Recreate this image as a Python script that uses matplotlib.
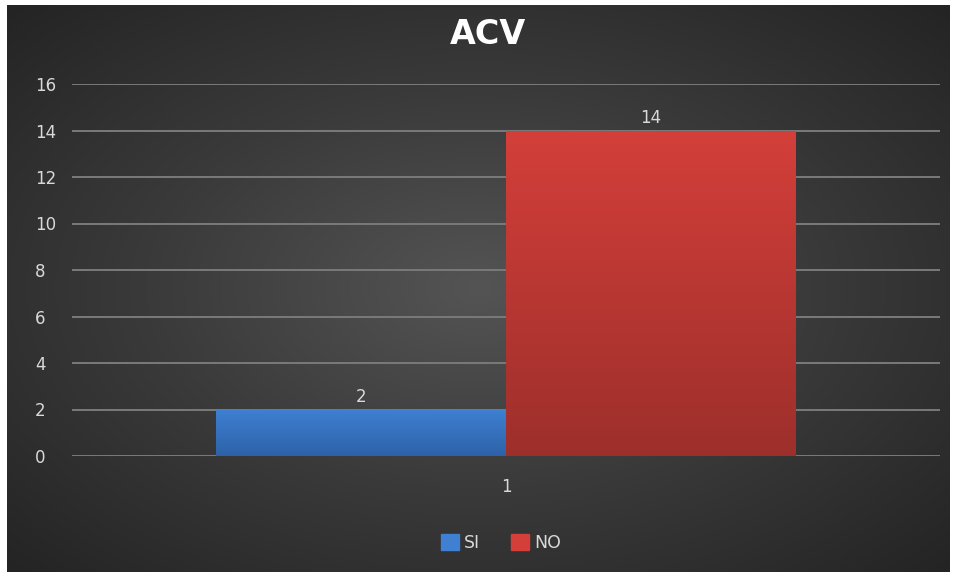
import numpy as np
import matplotlib.pyplot as plt
from matplotlib.patches import Rectangle
from matplotlib.colors import LinearSegmentedColormap

categories = ["1"]
series = ["SI", "NO"]
values = [2, 14]
yticks = [0, 2, 4, 6, 8, 10, 12, 14, 16]
title = "ACV"

W, H = 957, 577
fig = plt.figure(figsize=(W / 100, H / 100), dpi=100)
fig.patch.set_facecolor("white")

# dark radial background
bg = fig.add_axes([7 / W, 5 / H, (950 - 7) / W, (572 - 5) / H])
bx = np.linspace(-1, 1, 400)
by = np.linspace(-1, 1, 250)
X, Y = np.meshgrid(bx, by)
R = np.sqrt(X ** 2 + Y ** 2) / np.sqrt(2)
bgcmap = LinearSegmentedColormap.from_list("bg", ["#545454", "#3a3a3a", "#242424"])
bg.imshow(R, cmap=bgcmap, aspect="auto", extent=[0, 1, 0, 1], vmin=0, vmax=1)
bg.set_axis_off()

ax = fig.add_axes([72 / W, 121 / H, (940 - 72) / W, (456 - 84) / H])
ax.set_facecolor("none")
ax.set_xlim(-0.5, 0.5)
ax.set_ylim(0, 16)

width = 290 / 868
colors = [("#3f80d2", "#2d62a8"), ("#d43f3a", "#9d2f2b")]
offsets = [-width / 2, width / 2]
for i, (name, v) in enumerate(zip(series, values)):
    b = ax.bar(offsets[i], v, width=width, color=colors[i][0], label=name, zorder=3)
    p = b.patches[0]
    cmap = LinearSegmentedColormap.from_list("g%d" % i, [colors[i][1], colors[i][0]])
    grad = np.linspace(0, 1, 256).reshape(-1, 1)
    im = ax.imshow(grad, cmap=cmap, aspect="auto", origin="lower",
                   extent=[offsets[i] - width / 2, offsets[i] + width / 2, 0, v], zorder=4)
    im.set_clip_path(p)
    ax.text(offsets[i], v + 0.15, str(v), ha="center", va="bottom", color="#d9d9d9",
            fontsize=12, zorder=5)

ax.set_xlim(-0.5, 0.5)
ax.set_ylim(0, 16)
ax.set_yticks(yticks)
ax.set_yticklabels([str(t) for t in yticks])
for lab in ax.get_yticklabels():
    lab.set_horizontalalignment("left")
ax.set_xticks([0])
ax.set_xticklabels(categories)
ax.tick_params(axis="both", colors="#d9d9d9", labelsize=12, length=0)
ax.tick_params(axis="y", pad=26.5)
ax.tick_params(axis="x", pad=16)
ax.grid(axis="y", color="#7a7a7a", linewidth=1.4, zorder=1)
for s in ax.spines.values():
    s.set_visible(False)

fig.text(488 / W, 1 - 35 / H, title, ha="center", va="center", color="white",
         fontsize=24, fontweight="bold")

handles = [Rectangle((0, 0), 1, 1, color=colors[0][0]), Rectangle((0, 0), 1, 1, color=colors[1][0])]
leg = fig.legend(handles, series, loc="center", bbox_to_anchor=(501 / W, 1 - 543 / H), ncol=2,
                 frameon=False, fontsize=12.5, labelcolor="#d9d9d9", handlelength=1.0,
                 handleheight=1.0, handletextpad=0.3, columnspacing=1.8)

fig.savefig("out.png", dpi=100, facecolor="white")
